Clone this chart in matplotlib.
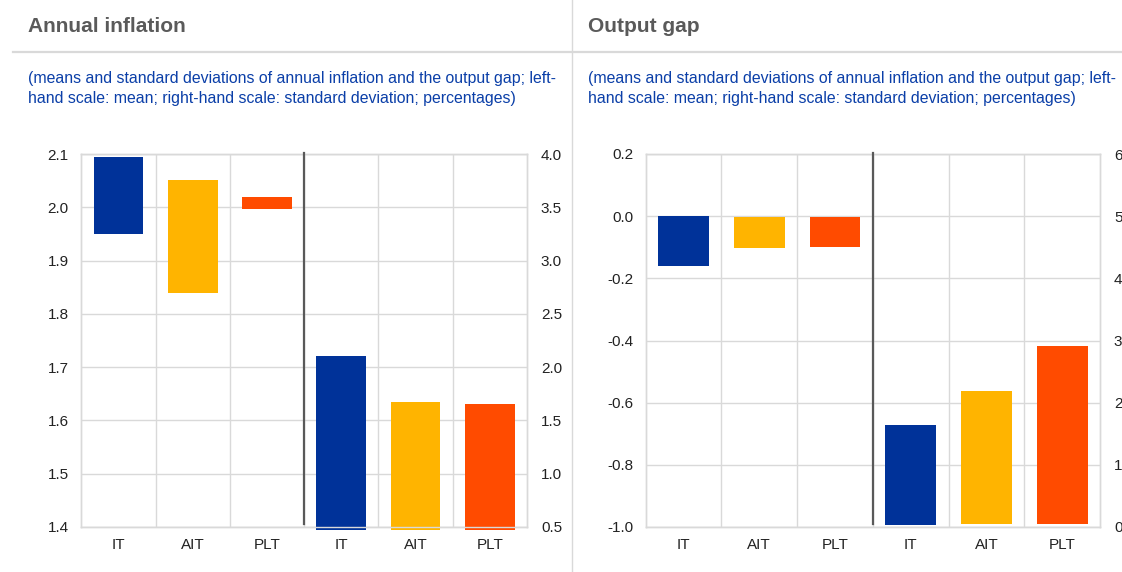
import matplotlib
matplotlib.use("Agg")
import matplotlib.pyplot as plt
from matplotlib.lines import Line2D
import numpy as np

plt.rcParams['font.family'] = ['Liberation Sans', 'DejaVu Sans']
plt.rcParams['axes.unicode_minus'] = False

# ---------------- data ----------------
categories = ["IT", "AIT", "PLT", "IT", "AIT", "PLT"]

# Annual inflation panel
infl_mean_top = [2.094, 2.051, 2.019]
infl_mean_bottom = [1.949, 1.840, 1.997]
infl_sd_top = [2.106, 1.672, 1.653]
infl_sd_bottom = [0.475, 0.475, 0.475]

# Output gap panel
gap_mean_top = [0.0, -0.003, -0.003]
gap_mean_bottom = [-0.160, -0.102, -0.099]
gap_sd_top = [1.64, 2.19, 2.915]
gap_sd_bottom = [0.037, 0.053, 0.053]

titles = ["Annual inflation", "Output gap"]
subtitle = ["(means and standard deviations of annual inflation and the output gap; left-",
            "hand scale: mean; right-hand scale: standard deviation; percentages)"]

left_ticks_infl = [1.4, 1.5, 1.6, 1.7, 1.8, 1.9, 2.0, 2.1]
right_ticks_infl = [0.5, 1.0, 1.5, 2.0, 2.5, 3.0, 3.5, 4.0]
left_ticks_gap = [-1.0, -0.8, -0.6, -0.4, -0.2, 0.0, 0.2]
right_ticks_gap = [0, 1, 2, 3, 4, 5, 6]

colors = ["#003299", "#FFB400", "#FF4B00"]
GRID = "#d9d9d9"
TXT = "#222222"
TITLE_C = "#5a5a5a"
SUB_C = "#0b3fa8"

W, H = 1122, 572
fig = plt.figure(figsize=(W / 100, H / 100), dpi=100)


def fx(px):
    return px / W


def fy(py):
    return 1 - py / H


def make_panel(x0, x1, mean_top, mean_bot, sd_top, sd_bot, lt, rt, lfmt, rfmt):
    ax = fig.add_axes([fx(x0), fy(527), fx(x1 - x0), fy(154) - fy(527)])
    ax2 = ax.twinx()
    x = np.arange(len(categories))
    mt = np.array(mean_top); mb = np.array(mean_bot)
    st = np.array(sd_top); sb = np.array(sd_bot)
    ax.bar(x[:3], mt - mb, bottom=mb, width=0.67, color=colors, zorder=3, linewidth=0)
    ax2.bar(x[3:], st - sb, bottom=sb, width=0.67, color=colors, zorder=3,
            linewidth=0, clip_on=False)
    ax.set_xlim(-0.5, 5.5)
    ax.set_ylim(lt[0], lt[-1])
    ax2.set_ylim(rt[0], rt[-1])
    ax.set_yticks(lt)
    ax.set_yticklabels([lfmt % v for v in lt])
    ax2.set_yticks(rt)
    ax2.set_yticklabels([rfmt % v for v in rt])
    ax.set_xticks(x)
    ax.set_xticklabels(categories)
    ax.set_xticks(np.arange(0.5, 5.5, 1.0), minor=True)
    ax.grid(axis='y', which='major', color=GRID, lw=1.0, zorder=0)
    ax.grid(axis='x', which='minor', color=GRID, lw=1.0, zorder=0)
    ax.grid(axis='x', which='major', visible=False)
    ax.set_axisbelow(True)
    for a in (ax, ax2):
        for s in a.spines.values():
            s.set_color(GRID)
            s.set_linewidth(1.0)
            s.set_zorder(5)
        a.tick_params(length=0, which='both', labelsize=11, colors=TXT)
    ax.tick_params(axis='y', pad=9)
    ax2.tick_params(axis='y', pad=10)
    ax.tick_params(axis='x', pad=8)
    # divider between mean and standard deviation blocks
    ax2.axvline(2.5, ymin=0.008, ymax=1.003, color="#595959", lw=1.6,
                zorder=6, clip_on=False)
    ax.patch.set_visible(False)
    ax2.set_zorder(ax.get_zorder() + 1)
    ax2.patch.set_visible(False)
    return ax, ax2


make_panel(81.3, 527, infl_mean_top, infl_mean_bottom, infl_sd_top, infl_sd_bottom,
           left_ticks_infl, right_ticks_infl, "%.1f", "%.1f")
make_panel(645.7, 1100, gap_mean_top, gap_mean_bottom, gap_sd_top, gap_sd_bottom,
           left_ticks_gap, right_ticks_gap, "%.1f", "%d")

# panel frame lines
fig.add_artist(Line2D([fx(13), 1], [fy(51.7), fy(51.7)], color=GRID, lw=1.6))
fig.add_artist(Line2D([fx(572.3), fx(572.3)], [0, 1], color=GRID, lw=1.0))

for x0, t in zip([28.5, 588], titles):
    fig.text(fx(x0), fy(27), t, fontsize=15, fontweight='bold', color=TITLE_C,
             va='center', ha='left')
    fig.text(fx(x0), fy(78), subtitle[0], fontsize=11.4, color=SUB_C, va='center', ha='left')
    fig.text(fx(x0), fy(98.5), subtitle[1], fontsize=11.4, color=SUB_C, va='center', ha='left')

fig.savefig("out.png", dpi=100)
